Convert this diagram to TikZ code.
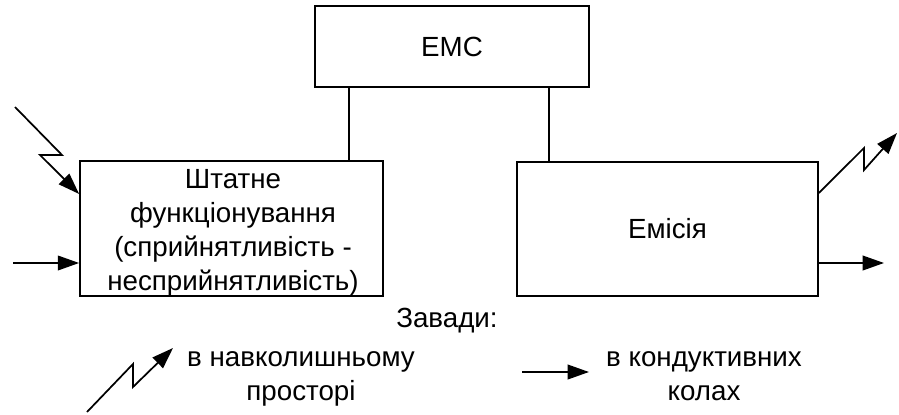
\documentclass[tikz,border=0pt]{standalone}
\usepackage{fontspec}
\setmainfont{Liberation Sans}
\usetikzlibrary{arrows.meta}
\begin{document}
\begin{tikzpicture}[x=0.75pt,y=-0.75pt,
  box/.style={draw,line width=1.3pt,inner sep=0pt,align=center,font=\fontsize{20.8}{25.5}\selectfont},
  lbl/.style={inner sep=0pt,align=center,font=\fontsize{20.8}{25.5}\selectfont},
  link/.style={line width=1.1pt},
  arr/.style={line width=1.3pt,-{Triangle[length=16pt,width=11pt]}},
]
\useasboundingbox (0,0) rectangle (899,414);
\node[box,minimum width=205.5pt,minimum height=60.75pt] (emc) at (452,46.5) {ЕМС};
\node[box,minimum width=227.25pt,minimum height=101.25pt] (lb) at (231.5,228.5) {};
\node[lbl,anchor=base] (lbt) at (233,290) {Штатне\\функціонування\\(сприйнятливість -\\несприйнятливість)};
\node[box,minimum width=225.75pt,minimum height=100.5pt] (rb) at (667.5,229) {Емісія};
\draw[link] (emc.south -| 349,0) -- (lb.north -| 349,0);
\draw[link] (emc.south -| 549,0) -- (rb.north -| 549,0);
% left lightning
\coordinate (l0) at (15,107);
\draw[arr] (l0) -- (62,155) -- (40,155) -- (lb.west |- 0,194);
\coordinate (i0) at (13,263);
\draw[arr] (i0) -- (lb.west |- 0,263);
% right lightning
\coordinate (r3) at (897,133);
\draw[arr] (rb.east |- 0,193) -- (864,148) -- (864,170) -- (r3);
\coordinate (o1) at (884,263);
\draw[arr] (rb.east |- 0,263) -- (o1);
% legend
\node[lbl,anchor=base] (zav) at (447,327) {Завади:};
\coordinate (g0) at (87,412);
\coordinate (g3) at (173,348);
\draw[arr] (g0) -- (133,364) -- (133,387) -- (g3);
\node[lbl,anchor=base] (nav) at (301,400) {в навколишньому\\просторі};
\coordinate (h0) at (522,372);
\coordinate (h1) at (589,372);
\draw[arr] (h0) -- (h1);
\node[lbl,anchor=base] (kon) at (704,400) {в кондуктивних\\колах};
\end{tikzpicture}
\end{document}
